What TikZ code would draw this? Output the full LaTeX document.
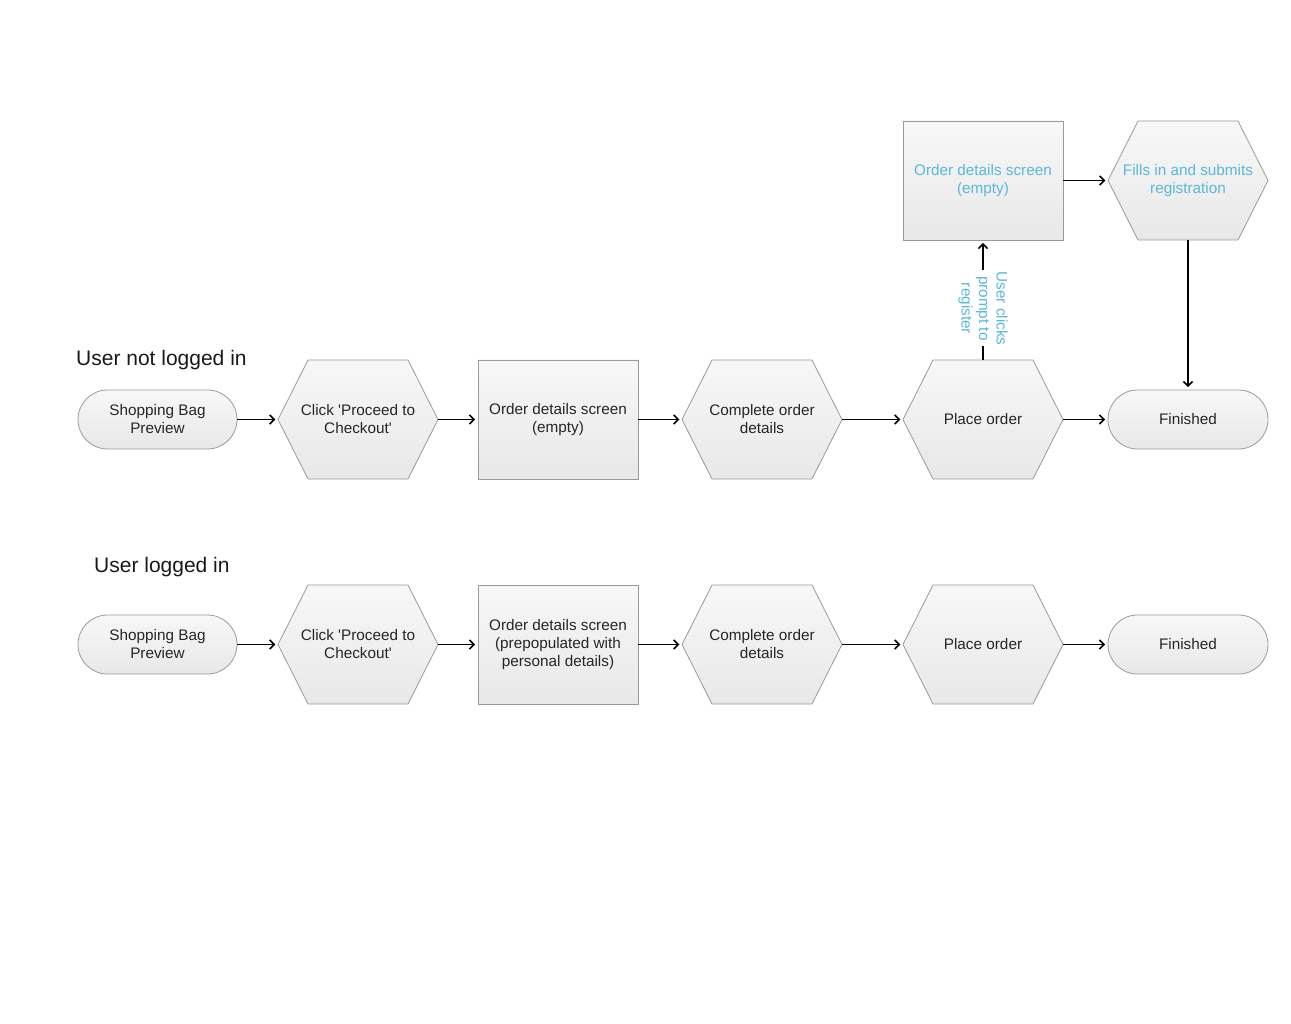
\documentclass[tikz,border=0pt]{standalone}
\usepackage{fontspec}
\setmainfont{Liberation Sans}
\usetikzlibrary{arrows.meta}
\definecolor{bordergray}{HTML}{9A9A9A}
\definecolor{bluetext}{HTML}{5BB8D9}
\tikzset{
  x=1pt, y=-1pt,
  boxfill/.style={top color=white!97!black, bottom color=white!91!black, draw=bordergray, line width=0.8pt},
  txt/.style={font=\fontsize{15.3}{18}\selectfont, align=center, text=black!85},
  stadium/.style={boxfill, txt, rounded corners=29.5pt, minimum width=159pt, minimum height=59pt, inner sep=0pt},
  hexa/.style={txt, rectangle, minimum width=160pt, minimum height=119pt, inner sep=0pt},
  screen/.style={boxfill, txt, rectangle, minimum width=160pt, minimum height=119pt, inner sep=0pt},
  flow/.style={line width=1.9pt, -{Straight Barb[length=4.5pt,width=9pt,line width=1.6pt]}, shorten >=2.5pt},
  heading/.style={font=\fontsize{21}{24}\selectfont, anchor=base west, text=black!90, inner sep=0pt},
  bluelbl/.style={text=bluetext}
}
% hexagon: #1 extra style, #2 name, #3 x, #4 y, #5 text
\newcommand\hexnode[5][]{%
  \path[boxfill] (#3-80,#4) -- (#3-50,#4-59.5) -- (#3+50,#4-59.5) -- (#3+80,#4)
     -- (#3+50,#4+59.5) -- (#3-50,#4+59.5) -- cycle;
  \node[hexa,#1] (#2) at (#3,#4) {#5};}
\begin{document}
\begin{tikzpicture}
\useasboundingbox (0,0) rectangle (1291,1024);

% headings
\node[heading] (h1) at (76,366) {User not logged in};
\node[heading] (h2) at (94,572) {User logged in};

% top row
\node[screen, bluelbl] (topscreen) at (983,180.5) {Order details screen\\(empty)};
\hexnode[bluelbl]{fills}{1188}{180.5}{Fills in and submits\\registration}

% row 1
\node[stadium] (a1) at (157.5,419.5) {Shopping Bag\\Preview};
\hexnode{b1}{358}{419.5}{Click \textquotesingle Proceed to\\Checkout\textquotesingle}
\node[screen] (c1) at (558,419.5) {Order details screen\\(empty)};
\hexnode{d1}{762}{419.5}{Complete order\\details}
\hexnode{e1}{983}{419.5}{Place order}
\node[stadium, minimum width=160pt] (f1) at (1188,419.5) {Finished};

% row 2
\node[stadium] (a2) at (157.5,644.5) {Shopping Bag\\Preview};
\hexnode{b2}{358}{644.5}{Click \textquotesingle Proceed to\\Checkout\textquotesingle}
\node[screen] (c2) at (558,644.5) {Order details screen\\(prepopulated with\\personal details)};
\hexnode{d2}{762}{644.5}{Complete order\\details}
\hexnode{e2}{983}{644.5}{Place order}
\node[stadium, minimum width=160pt] (f2) at (1188,644.5) {Finished};

% connectors row 1
\draw[flow] (a1) -- (b1);
\draw[flow] (b1) -- (c1);
\draw[flow] (c1) -- (d1);
\draw[flow] (d1) -- (e1);
\draw[flow] (e1) -- (f1);
% connectors row 2
\draw[flow] (a2) -- (b2);
\draw[flow] (b2) -- (c2);
\draw[flow] (c2) -- (d2);
\draw[flow] (d2) -- (e2);
\draw[flow] (e2) -- (f2);
% top connectors
\draw[flow] (topscreen) -- (fills);
\draw[flow] (fills.south) -- (f1.north);
\draw[flow] (e1.north) -- node[pos=0.43, rotate=-90, fill=white, bluelbl, font=\fontsize{15.3}{17.5}\selectfont, align=center, inner sep=1pt] (lbl) {User clicks\\prompt to\\register} (topscreen.south);
\end{tikzpicture}
\end{document}
